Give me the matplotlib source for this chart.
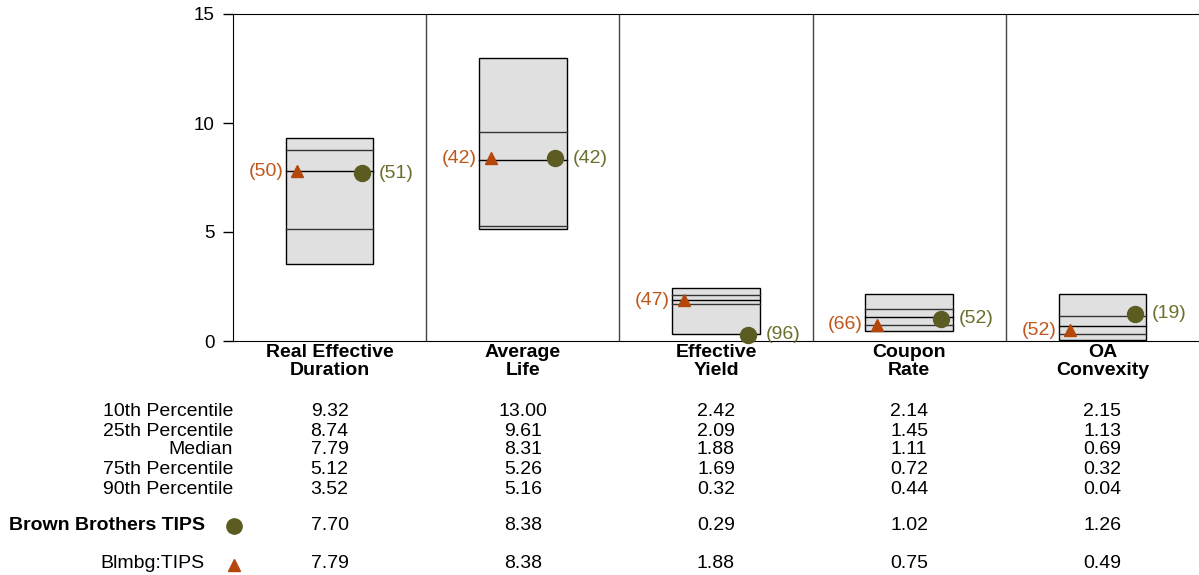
import matplotlib
matplotlib.use("Agg")
import matplotlib.pyplot as plt
from matplotlib.transforms import blended_transform_factory

plt.rcParams["font.family"] = ["Liberation Sans", "DejaVu Sans"]

categories = ["Real Effective\nDuration", "Average\nLife", "Effective\nYield",
              "Coupon\nRate", "OA\nConvexity"]
row_labels = ["10th Percentile", "25th Percentile", "Median",
              "75th Percentile", "90th Percentile"]
p10 = [9.32, 13.00, 2.42, 2.14, 2.15]
p25 = [8.74, 9.61, 2.09, 1.45, 1.13]
median = [7.79, 8.31, 1.88, 1.11, 0.69]
p75 = [5.12, 5.26, 1.69, 0.72, 0.32]
p90 = [3.52, 5.16, 0.32, 0.44, 0.04]

fund_name = "Brown Brothers TIPS"
fund_values = [7.70, 8.38, 0.29, 1.02, 1.26]
fund_ranks = [51, 42, 96, 52, 19]

bench_name = "Blmbg:TIPS"
bench_values = [7.79, 8.38, 1.88, 0.75, 0.49]
bench_ranks = [50, 42, 47, 66, 52]

fund_color = "#5B5B22"
fund_text = "#6E6E2E"
bench_color = "#B5470B"
bench_text = "#C0561A"
FS = 14

W, H = 1199, 575
fig = plt.figure(figsize=(W / 100, H / 100), dpi=100)
ax = fig.add_axes([233 / W, 1 - 341 / H, (W - 233) / W, (341 - 14) / H])

box_half = 0.227
for i in range(len(categories)):
    c = i + 0.5
    rect = plt.Rectangle((c - box_half, p90[i]), 2 * box_half, p10[i] - p90[i],
                         facecolor="#E0E0E0", edgecolor="black", linewidth=1, zorder=2)
    ax.add_patch(rect)
    for v, col in [(p25[i], "#333333"), (median[i], "black"), (p75[i], "#333333")]:
        ax.plot([c - box_half, c + box_half], [v, v], color=col, linewidth=1, zorder=3)
    # benchmark triangle
    bx = i + 1 / 3
    ax.plot(bx, bench_values[i], marker="^", color=bench_color, markersize=9,
            linestyle="none", zorder=5, clip_on=False)
    ax.annotate(f"({bench_ranks[i]})", (bx, bench_values[i]), xytext=(-10, 0),
                textcoords="offset points", ha="right", va="center",
                color=bench_text, fontsize=FS)
    # fund circle
    fx = i + 2 / 3
    ax.plot(fx, fund_values[i], marker="o", color=fund_color, markersize=11.5,
            linestyle="none", zorder=5, clip_on=False)
    ax.annotate(f"({fund_ranks[i]})", (fx, fund_values[i]), xytext=(12.5, 0),
                textcoords="offset points", ha="left", va="center",
                color=fund_text, fontsize=FS)

for x in range(1, len(categories)):
    ax.axvline(x, color="#444444", linewidth=1, zorder=1)

ax.set_xlim(0, len(categories))
ax.set_ylim(0, 15)
ax.set_yticks([0, 5, 10, 15])
ax.set_xticks([])
ax.tick_params(axis="y", length=7, width=1, labelsize=13.5, pad=6)
ax.spines["right"].set_visible(False)

trans = blended_transform_factory(ax.transData, fig.transFigure)
for i, cat in enumerate(categories):
    ax.text(i + 0.5, 1 - 344 / H, cat, transform=trans, ha="center", va="top",
            fontsize=FS, fontweight="bold", linespacing=1.1)

row_y = [412, 431, 450, 469, 489]
stats = [p10, p25, median, p75, p90]
for py, label, vals in zip(row_y, row_labels, stats):
    fig.text(233 / W, 1 - py / H, label, ha="right", va="center", fontsize=FS)
    for i, v in enumerate(vals):
        ax.text(i + 0.5, 1 - py / H, f"{v:.2f}", transform=trans,
                ha="center", va="center", fontsize=FS)

fund_y = 1 - 526 / H
fig.text(205 / W, fund_y, fund_name, ha="right", va="center", fontsize=FS,
         fontweight="bold")
fig.lines.append(plt.Line2D([234 / W], [fund_y], marker="o", color=fund_color,
                            markersize=11, transform=fig.transFigure))
for i, v in enumerate(fund_values):
    ax.text(i + 0.5, fund_y, f"{v:.2f}", transform=trans, ha="center",
            va="center", fontsize=FS)

bench_y = 1 - 564 / H
fig.text(205 / W, bench_y, bench_name, ha="right", va="center", fontsize=FS)
fig.lines.append(plt.Line2D([234 / W], [1 - 565 / H], marker="^", color=bench_color,
                            markersize=9, transform=fig.transFigure))
for i, v in enumerate(bench_values):
    ax.text(i + 0.5, bench_y, f"{v:.2f}", transform=trans, ha="center",
            va="center", fontsize=FS)

fig.savefig("out.png", dpi=100)
